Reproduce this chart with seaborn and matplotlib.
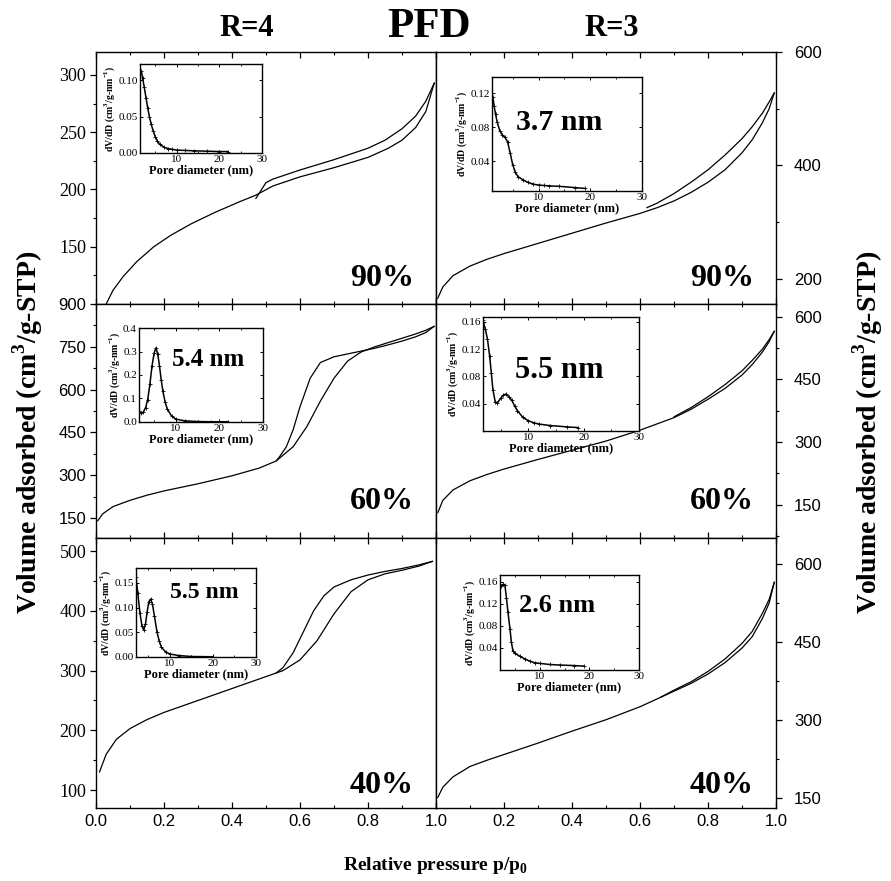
import numpy as np
import pandas as pd
import matplotlib
matplotlib.use("Agg")
import matplotlib.pyplot as plt
import seaborn as sns
from matplotlib.ticker import MultipleLocator

sns.set_theme(style="ticks")
plt.rcParams['font.family'] = ['Liberation Serif', 'DejaVu Serif']
plt.rcParams['mathtext.fontset'] = 'custom'
plt.rcParams['mathtext.rm'] = 'Liberation Serif'
plt.rcParams['mathtext.bf'] = 'Liberation Serif:bold'
plt.rcParams['axes.edgecolor'] = 'black'
plt.rcParams['axes.linewidth'] = 1.0
plt.rcParams['text.color'] = 'black'
plt.rcParams['axes.labelcolor'] = 'black'
plt.rcParams['xtick.color'] = 'black'
plt.rcParams['ytick.color'] = 'black'

# ---------------- main isotherm data ----------------
# R=4, 90%
tl_ads_p = [0.03, 0.05, 0.08, 0.12, 0.17, 0.22, 0.28, 0.35, 0.42, 0.47, 0.52, 0.60, 0.70, 0.80, 0.86, 0.90, 0.94, 0.97, 0.995]
tl_ads_v = [100, 112, 124, 137, 150, 160, 170, 180, 189, 195, 203, 211, 219, 228, 236, 243, 254, 268, 293]
tl_des_p = [0.995, 0.97, 0.94, 0.90, 0.85, 0.80, 0.70, 0.60, 0.52, 0.50, 0.47]
tl_des_v = [293, 277, 264, 253, 243, 236, 226, 217, 209, 206, 192]

# R=3, 90%
tr_ads_p = [0.005, 0.02, 0.05, 0.10, 0.15, 0.20, 0.30, 0.40, 0.50, 0.60, 0.65, 0.70, 0.75, 0.80, 0.85, 0.90, 0.93, 0.96, 0.98, 0.995]
tr_ads_v = [165, 185, 205, 222, 234, 244, 262, 280, 298, 315, 325, 337, 352, 370, 392, 422, 445, 475, 500, 528]
tr_des_p = [0.995, 0.98, 0.96, 0.93, 0.90, 0.85, 0.80, 0.75, 0.70, 0.65, 0.62]
tr_des_v = [528, 512, 492, 468, 447, 418, 392, 370, 350, 333, 325]

# R=4, 60%
ml_ads_p = [0.005, 0.02, 0.05, 0.10, 0.15, 0.20, 0.30, 0.40, 0.48, 0.53, 0.58, 0.62, 0.66, 0.70, 0.74, 0.78, 0.82, 0.86, 0.90, 0.94, 0.97, 0.995]
ml_ads_v = [140, 165, 190, 212, 230, 245, 270, 298, 325, 350, 400, 470, 560, 640, 700, 732, 750, 765, 780, 795, 808, 822]
ml_des_p = [0.995, 0.97, 0.94, 0.90, 0.86, 0.82, 0.78, 0.74, 0.70, 0.66, 0.63, 0.60, 0.58, 0.56, 0.54, 0.53]
ml_des_v = [822, 800, 785, 770, 757, 745, 735, 725, 715, 695, 640, 540, 460, 400, 365, 350]

# R=3, 60%
mr_ads_p = [0.005, 0.02, 0.05, 0.10, 0.15, 0.20, 0.30, 0.40, 0.50, 0.60, 0.70, 0.75, 0.80, 0.85, 0.90, 0.93, 0.96, 0.98, 0.995]
mr_ads_v = [130, 160, 185, 207, 222, 235, 258, 280, 302, 328, 358, 378, 402, 428, 460, 485, 515, 540, 565]
mr_des_p = [0.995, 0.98, 0.96, 0.93, 0.90, 0.85, 0.80, 0.75, 0.70]
mr_des_v = [565, 545, 522, 495, 470, 437, 408, 382, 360]

# R=4, 40%
bl_ads_p = [0.01, 0.03, 0.06, 0.10, 0.15, 0.20, 0.30, 0.40, 0.50, 0.55, 0.60, 0.65, 0.70, 0.75, 0.80, 0.85, 0.90, 0.95, 0.99]
bl_ads_v = [130, 160, 185, 203, 218, 230, 250, 270, 290, 300, 318, 350, 395, 432, 452, 462, 468, 475, 483]
bl_des_p = [0.99, 0.95, 0.90, 0.85, 0.80, 0.75, 0.70, 0.67, 0.64, 0.61, 0.58, 0.55, 0.53]
bl_des_v = [483, 477, 471, 466, 460, 452, 440, 425, 400, 365, 330, 305, 296]

# R=3, 40%
br_ads_p = [0.005, 0.02, 0.05, 0.10, 0.15, 0.20, 0.30, 0.40, 0.50, 0.60, 0.65, 0.70, 0.75, 0.80, 0.85, 0.90, 0.93, 0.96, 0.98, 0.995]
br_ads_v = [150, 170, 190, 210, 222, 233, 255, 278, 300, 325, 340, 355, 370, 388, 410, 438, 460, 495, 525, 565]
br_des_p = [0.995, 0.98, 0.96, 0.93, 0.90, 0.85, 0.80, 0.75, 0.70, 0.66]
br_des_v = [565, 532, 505, 470, 447, 417, 393, 373, 357, 343]

# ---------------- pore size distribution data ----------------
tl_d = [1.7, 2.0, 2.4, 2.8, 3.2, 3.6, 4.0, 4.5, 5.0, 5.5, 6.0, 7.0, 8.0, 9.0, 10.0, 12.0, 14.0, 17.0, 20.0, 22.0]
tl_f = [0.113, 0.103, 0.090, 0.076, 0.062, 0.050, 0.040, 0.030, 0.022, 0.016, 0.012, 0.008, 0.006, 0.005, 0.004, 0.0035, 0.003, 0.0025, 0.002, 0.002]

tr_d = [1.2, 1.4, 1.7, 2.0, 2.5, 3.0, 3.5, 4.0, 4.5, 5.0, 5.5, 6.0, 7.0, 8.0, 9.0, 10.0, 11.0, 12.0, 14.0, 17.0, 19.0]
tr_f = [0.115, 0.105, 0.095, 0.086, 0.076, 0.071, 0.068, 0.063, 0.050, 0.036, 0.027, 0.022, 0.018, 0.015, 0.013, 0.012, 0.0115, 0.011, 0.0105, 0.009, 0.008]

ml_d = [1.5, 2.0, 2.5, 3.0, 3.5, 4.0, 4.5, 5.0, 5.4, 5.8, 6.2, 6.6, 7.0, 7.5, 8.0, 9.0, 10.0, 12.0, 15.0, 18.0, 22.0]
ml_f = [0.045, 0.038, 0.042, 0.060, 0.095, 0.160, 0.240, 0.295, 0.315, 0.290, 0.240, 0.180, 0.130, 0.085, 0.055, 0.025, 0.012, 0.005, 0.002, 0.001, 0.001]

mr_d = [1.8, 2.2, 2.6, 3.0, 3.3, 3.6, 4.0, 4.4, 5.0, 5.5, 6.0, 6.5, 7.0, 7.5, 8.0, 9.0, 10.0, 11.0, 12.0, 14.0, 17.0, 19.0]
mr_f = [0.162, 0.150, 0.135, 0.110, 0.085, 0.060, 0.043, 0.041, 0.048, 0.053, 0.054, 0.050, 0.045, 0.037, 0.030, 0.020, 0.015, 0.012, 0.010, 0.008, 0.006, 0.005]

bl_d = [2.1, 2.5, 3.0, 3.5, 3.9, 4.3, 4.7, 5.1, 5.5, 5.9, 6.4, 7.0, 7.5, 8.0, 9.0, 10.0, 12.0, 15.0, 20.0]
bl_f = [0.162, 0.130, 0.090, 0.062, 0.055, 0.066, 0.092, 0.112, 0.117, 0.108, 0.082, 0.050, 0.032, 0.020, 0.010, 0.006, 0.003, 0.001, 0.0005]

br_d = [2.0, 2.3, 2.6, 3.0, 3.3, 3.6, 4.0, 4.3, 4.6, 5.0, 6.0, 7.0, 8.0, 9.0, 10.0, 12.0, 14.0, 17.0, 19.0]
br_f = [0.152, 0.152, 0.155, 0.153, 0.130, 0.105, 0.075, 0.050, 0.035, 0.030, 0.025, 0.020, 0.016, 0.013, 0.012, 0.010, 0.009, 0.008, 0.007]

W, H = 891, 881
fig = plt.figure(figsize=(W / 100, H / 100), dpi=100)


def rect(x0, y0, x1, y1):
    return [x0 / W, 1 - y1 / H, (x1 - x0) / W, (y1 - y0) / H]


SANS = 'Liberation Sans'
SERIF = 'Liberation Serif'


def main_panel(r, ads_p, ads_v, des_p, des_v, ylim, yticks, yminor, side, yfont,
               xlabels=None, pct='', pct_y=0.1):
    ax = fig.add_axes(rect(*r))
    sns.lineplot(x=ads_p, y=ads_v, ax=ax, color='black', lw=0.9, sort=False, estimator=None)
    sns.lineplot(x=des_p, y=des_v, ax=ax, color='black', lw=0.9, sort=False, estimator=None)
    ax.set_xlim(0, 1)
    ax.set_ylim(*ylim)
    ax.set_xticks([0, 0.2, 0.4, 0.6, 0.8, 1.0])
    ax.xaxis.set_minor_locator(MultipleLocator(0.1))
    ax.set_yticks(yticks)
    ax.yaxis.set_minor_locator(MultipleLocator(yminor))
    ax.set_xlabel('')
    ax.set_ylabel('')
    ax.tick_params(axis='x', which='both', direction='in', top=True, bottom=True,
                   labelbottom=xlabels is not None, colors='black')
    ax.tick_params(axis='x', which='major', length=4, width=0.9, pad=4)
    ax.tick_params(axis='x', which='minor', length=2.5, width=0.8)
    if xlabels is not None:
        ax.set_xticklabels(xlabels, fontfamily=SANS, fontsize=12)
    if side == 'left':
        ax.tick_params(axis='y', which='both', direction='out', left=True, right=False,
                       labelleft=True, labelright=False)
        ax.tick_params(axis='y', which='major', length=4, width=0.9, pad=3)
    else:
        ax.yaxis.tick_right()
        ax.tick_params(axis='y', which='both', direction='out', left=False, right=True,
                       labelleft=False, labelright=True)
        ax.tick_params(axis='y', which='major', length=4, width=0.9, pad=9)
    ax.tick_params(axis='y', which='minor', length=2.5, width=0.8)
    ax.set_yticklabels([str(t) for t in yticks], fontfamily=yfont,
                       fontsize=13 if yfont == SERIF else 12)
    for s in ax.spines.values():
        s.set_color('black')
        s.set_linewidth(1.0)
    ax.text(0.935, pct_y, pct, transform=ax.transAxes, ha='right', va='center',
            fontsize=23, fontweight='bold', fontfamily=SERIF)
    return ax


def inset(r, d, f, xlim, ylim, yticks, ylabels, peak, peak_xy, peak_size):
    ax = fig.add_axes(rect(*r))
    sns.lineplot(x=d, y=f, ax=ax, color='black', lw=1.1, marker='+', markersize=3.5,
                 markeredgewidth=0.6, markeredgecolor='black', sort=False, estimator=None)
    ax.set_xlim(*xlim)
    ax.set_ylim(*ylim)
    ax.set_xticks([10, 20, 30])
    ax.xaxis.set_minor_locator(MultipleLocator(5))
    ax.set_yticks(yticks)
    ax.set_xticklabels(['10', '20', '30'], fontfamily=SERIF, fontsize=8)
    ax.set_yticklabels(ylabels, fontfamily=SERIF, fontsize=8)
    ax.tick_params(axis='both', which='both', direction='in', top=True, right=True,
                   colors='black', pad=1.5)
    ax.tick_params(axis='both', which='major', length=2.5, width=0.7)
    ax.tick_params(axis='both', which='minor', length=1.5, width=0.6)
    ax.set_xlabel('Pore diameter (nm)', fontfamily=SERIF, fontweight='bold', fontsize=9,
                  labelpad=0)
    ax.set_ylabel(r'dV/dD (cm$^{\mathbf{3}}$/g-nm$^{\mathbf{-1}}$)', fontfamily=SERIF,
                  fontweight='bold', fontsize=7, labelpad=1)
    for s in ax.spines.values():
        s.set_color('black')
        s.set_linewidth(1.0)
    if peak:
        ax.text(peak_xy[0], peak_xy[1], peak, transform=ax.transAxes, ha='center',
                va='center', fontsize=peak_size, fontweight='bold', fontfamily=SERIF)
    return ax


L0, M, R1 = 96, 436, 776
T0, B1, B2, B3 = 52, 304, 538, 808

main_panel((L0, T0, M, B1), tl_ads_p, tl_ads_v, tl_des_p, tl_des_v, (100, 320),
           [150, 200, 250, 300], 25, 'left', SERIF, pct='90%', pct_y=0.103)
main_panel((M, T0, R1, B1), tr_ads_p, tr_ads_v, tr_des_p, tr_des_v, (155, 600),
           [200, 400, 600], 100, 'right', SANS, pct='90%', pct_y=0.103)
main_panel((L0, B1, M, B2), ml_ads_p, ml_ads_v, ml_des_p, ml_des_v, (80, 900),
           [150, 300, 450, 600, 750, 900], 75, 'left', SANS, pct='60%', pct_y=0.154)
main_panel((M, B1, R1, B2), mr_ads_p, mr_ads_v, mr_des_p, mr_des_v, (70, 630),
           [150, 300, 450, 600], 75, 'right', SANS, pct='60%', pct_y=0.154)
main_panel((L0, B2, M, B3), bl_ads_p, bl_ads_v, bl_des_p, bl_des_v, (70, 522),
           [100, 200, 300, 400, 500], 50, 'left', SERIF,
           xlabels=['0.0', '0.2', '0.4', '0.6', '0.8', '1.0'], pct='40%', pct_y=0.085)
main_panel((M, B2, R1, B3), br_ads_p, br_ads_v, br_des_p, br_des_v, (130, 650),
           [150, 300, 450, 600], 75, 'right', SANS,
           xlabels=['', '0.2', '0.4', '0.6', '0.8', '1.0'], pct='40%', pct_y=0.085)

inset((140, 64, 262, 153), tl_d, tl_f, (1.4, 30), (0, 0.122), [0, 0.05, 0.10],
      ['0.00', '0.05', '0.10'], '', None, 0)
inset((492, 77, 642, 191), tr_d, tr_f, (1.0, 30), (0.005, 0.139), [0.04, 0.08, 0.12],
      ['0.04', '0.08', '0.12'], '3.7 nm', (0.45, 0.60), 21.5)
inset((139, 328, 263, 422), ml_d, ml_f, (1.5, 30), (0, 0.4), [0, 0.1, 0.2, 0.3, 0.4],
      ['0.0', '0.1', '0.2', '0.3', '0.4'], '5.4 nm', (0.56, 0.67), 18)
inset((483, 317, 639, 431), mr_d, mr_f, (1.8, 30), (0, 0.167), [0.04, 0.08, 0.12, 0.16],
      ['0.04', '0.08', '0.12', '0.16'], '5.5 nm', (0.49, 0.535), 22)
inset((136, 568, 256, 657), bl_d, bl_f, (2.1, 30), (0, 0.18), [0, 0.05, 0.10, 0.15],
      ['0.00', '0.05', '0.10', '0.15'], '5.5 nm', (0.57, 0.72), 17)
inset((500, 575, 639, 670), br_d, br_f, (2.0, 30), (0, 0.172), [0.04, 0.08, 0.12, 0.16],
      ['0.04', '0.08', '0.12', '0.16'], '2.6 nm', (0.41, 0.68), 19)

# titles and axis labels
fig.text(247 / W, 1 - 28 / H, 'R=4', ha='center', va='center', fontsize=22,
         fontweight='bold', fontfamily=SERIF)
fig.text(429 / W, 1 - 27 / H, 'PFD', ha='center', va='center', fontsize=31,
         fontweight='bold', fontfamily=SERIF)
fig.text(612 / W, 1 - 28 / H, 'R=3', ha='center', va='center', fontsize=22,
         fontweight='bold', fontfamily=SERIF)
fig.text(28 / W, 1 - 432 / H, r'Volume adsorbed (cm$^{\mathbf{3}}$/g-STP)', rotation=90,
         ha='center', va='center', fontsize=20, fontweight='bold', fontfamily=SERIF)
fig.text(868 / W, 1 - 432 / H, r'Volume adsorbed (cm$^{\mathbf{3}}$/g-STP)', rotation=90,
         ha='center', va='center', fontsize=20, fontweight='bold', fontfamily=SERIF)
fig.text(436 / W, 1 - 866 / H, r'Relative pressure p/p$_{\mathbf{0}}$', ha='center',
         va='center', fontsize=14, fontweight='bold', fontfamily=SERIF)

fig.savefig('out.png', dpi=100)
